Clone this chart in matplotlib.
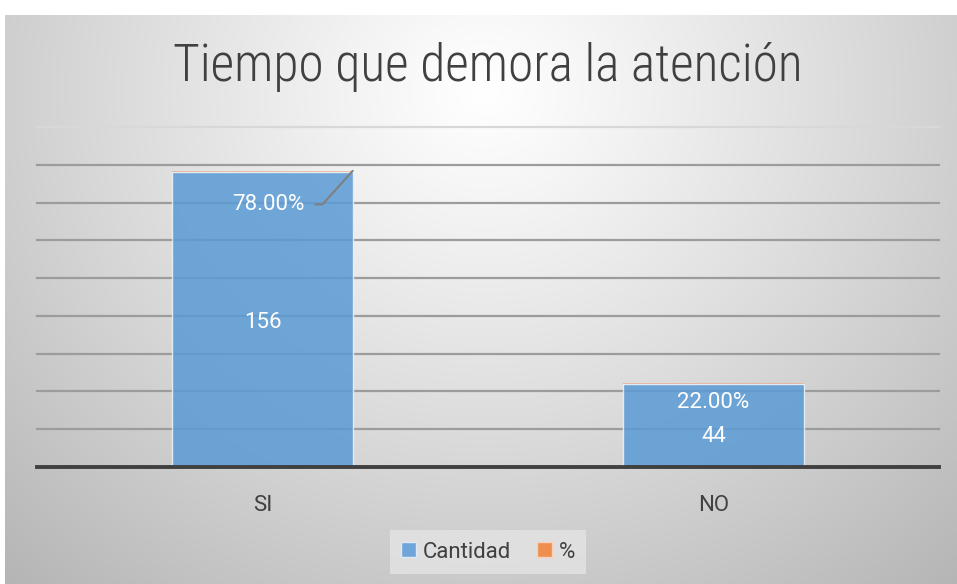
import numpy as np
import matplotlib
matplotlib.use("Agg")
import matplotlib.pyplot as plt
from matplotlib.patches import Patch

plt.rcParams['font.family'] = ['Roboto', 'DejaVu Sans']

# datos
categorias = ['SI', 'NO']
cantidad = [156, 44]
porcentaje = [0.78, 0.22]
titulo = 'Tiempo que demora la atención'

W, H = 957, 584
fig = plt.figure(figsize=(W / 100, H / 100), dpi=100)
fig.patch.set_facecolor('white')

# fondo con degradado radial (estilo Excel)
bg = fig.add_axes([5 / W, 0, 1 - 5 / W, 569 / H], zorder=-5)
gx, gy = np.meshgrid(np.linspace(0, 952, 400), np.linspace(0, 569, 300))
r = np.sqrt(((gx - 480) / 600) ** 2 + ((gy - 75) / 560) ** 2)
g = 1 - 0.24 * np.clip(r, 0, 1.2) ** 1.1
bg.imshow(np.dstack([g, g, g]), aspect='auto', extent=[0, 1, 0, 1], interpolation='bicubic')
bg.axis('off')

ax = fig.add_axes([37 / W, (H - 467) / H, (939 - 37) / W, 340 / H])
ax.set_facecolor('none')

x = np.arange(len(categorias))
b1 = ax.bar(x, cantidad, width=0.4, color='#5b9bd5', alpha=0.86,
            edgecolor='#eef4fa', linewidth=1, zorder=2, label='Cantidad')
b2 = ax.bar(x, porcentaje, width=0.4, bottom=cantidad, color='#f0a070',
            alpha=0.6, linewidth=0, zorder=2, label='%')

ax.set_xlim(-0.5, 1.5)
ax.set_ylim(0, 180)
for yv in np.arange(20, 181, 20):
    c = '#d8d8d8' if yv == 180 else '#9c9c9c'
    ax.axhline(yv, color=c, lw=1.6, zorder=1, clip_on=False)

for s in ['top', 'left', 'right']:
    ax.spines[s].set_visible(False)
ax.spines['bottom'].set_color('#404040')
ax.spines['bottom'].set_linewidth(2.8)
ax.spines['bottom'].set_zorder(3)
ax.set_yticks([])
ax.set_xticks(x)
ax.set_xticklabels(categorias, fontsize=16, color='#404040')
ax.tick_params(axis='x', length=0, pad=20)

# etiquetas de Cantidad
desplaz = [-1.5, -6]
for i, v in enumerate(cantidad):
    ax.text(x[i], v / 2 + desplaz[i], str(v), ha='center', va='center',
            fontsize=16, color='white', zorder=4)

# etiquetas de %
ax.annotate('%.2f%%' % (porcentaje[0] * 100), xy=(x[0] + 0.2, cantidad[0] + porcentaje[0]),
            xytext=(x[0] + 0.012, 139), textcoords='data', ha='center', va='center',
            fontsize=16, color='white', zorder=4,
            arrowprops=dict(arrowstyle='-', color='#7f7f7f', lw=1.5, relpos=(1, 0.5),
                            shrinkA=6, shrinkB=0,
                            connectionstyle='angle,angleA=0,angleB=48,rad=0'))
ax.text(x[1], 34, '%.2f%%' % (porcentaje[1] * 100), ha='center', va='center',
        fontsize=16, color='white', zorder=4)

fig.text(488 / W, (H - 67) / H, titulo, ha='center', va='center', fontsize=37,
         fontweight='light', color='#404040', family=['Roboto Condensed', 'Roboto'])

handles = [Patch(facecolor='#6fa5d8', edgecolor='#dfe9f4'),
           Patch(facecolor='#ef8f4f', edgecolor='#f6d0b8')]
leg = fig.legend(handles, ['Cantidad', '%'], loc='center', bbox_to_anchor=(488 / W, (H - 552) / H),
                 ncol=2, frameon=True, fontsize=16, handlelength=0.65, handleheight=0.65,
                 handletextpad=0.3, columnspacing=1.2, borderpad=0.5, fancybox=False)
leg.get_frame().set_facecolor('#e4e4e4')
leg.get_frame().set_edgecolor('none')
for t in leg.get_texts():
    t.set_color('#404040')

fig.savefig('out.png', dpi=100)
